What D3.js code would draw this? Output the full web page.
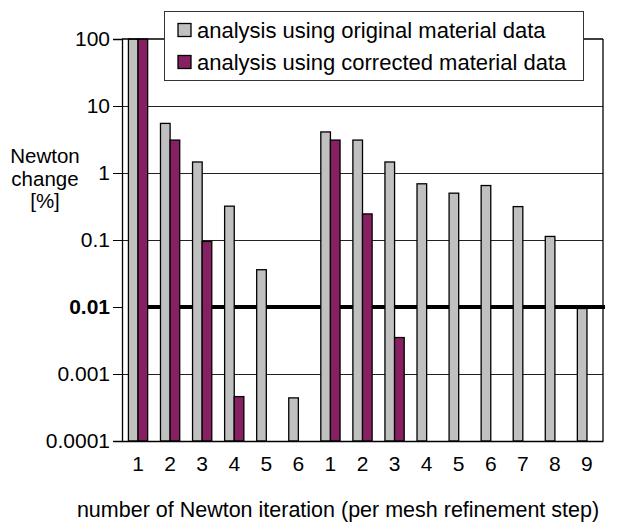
<!DOCTYPE html>
<html>
<head>
<meta charset="utf-8">
<script src="https://cdn.jsdelivr.net/npm/d3@7"></script>
<style>
  html, body { margin: 0; padding: 0; background: #fff; }
  svg { display: block; font-family: "Liberation Sans", Arial, sans-serif; }
</style>
</head>
<body>
<svg id="chart" width="622" height="525"></svg>
<script>
// ---- data ----
const iterationLabels = ["1","2","3","4","5","6","1","2","3","4","5","6","7","8","9"];
const originalData  = [100, 5.5, 1.46, 0.32, 0.036, 0.00044, 4.1, 3.1, 1.46, 0.69, 0.50, 0.65, 0.315, 0.113, 0.0095];
const correctedData = [100, 3.1, 0.095, 0.00046, null, null, 3.1, 0.245, 0.0035, null, null, null, null, null, null];
const seriesNames = ["analysis using original material data", "analysis using corrected material data"];
const seriesColors = ["#c0c0c0", "#862062"];
const yTickValues = [100, 10, 1, 0.1, 0.01, 0.001, 0.0001];
const yTickLabels = ["100", "10", "1", "0.1", "0.01", "0.001", "0.0001"];
const thresholdValue = 0.01;
const yTitleLines = ["Newton", "change", "[%]"];
const xTitle = "number of Newton iteration (per mesh refinement step)";

(function () {
// ---- layout ----
const svg = d3.select("#chart");
const pL = 122, pR = 603, pT = 39, pB = 441;

const cats = iterationLabels.map((d, i) => i);
const x = d3.scaleBand().domain(cats).range([pL, pR]).paddingInner(0).paddingOuter(0);
const xi = d3.scaleBand().domain([0, 1]).range([x.bandwidth() * 0.2, x.bandwidth() * 0.8]);
const y = d3.scaleLog().domain([0.0001, 100]).range([pB, pT]);

// plot background
svg.append("rect").attr("x", pL).attr("y", pT).attr("width", pR - pL).attr("height", pB - pT).attr("fill", "#fff");

// gridlines
svg.append("g").selectAll("line")
  .data(yTickValues.filter(v => v !== 0.0001 && v !== 100 && v !== thresholdValue))
  .join("line")
  .attr("x1", pL).attr("x2", pR)
  .attr("y1", d => Math.round(y(d)) + 0.5).attr("y2", d => Math.round(y(d)) + 0.5)
  .attr("stroke", "#222").attr("stroke-width", 1);

// threshold line
svg.append("line")
  .attr("x1", x(0) + xi(0)).attr("x2", pR + 2)
  .attr("y1", y(thresholdValue)).attr("y2", y(thresholdValue))
  .attr("stroke", "#000").attr("stroke-width", 4);

// bars
const series = [originalData, correctedData];
series.forEach((vals, s) => {
  svg.append("g").selectAll("rect")
    .data(vals.map((v, i) => ({ v, i })).filter(d => d.v != null))
    .join("rect")
    .attr("x", d => x(d.i) + xi(s))
    .attr("width", xi.bandwidth())
    .attr("y", d => y(d.v))
    .attr("height", d => y(0.0001) - y(d.v))
    .attr("fill", seriesColors[s])
    .attr("stroke", "#000").attr("stroke-width", 1.3);
});

// frame: top and right
svg.append("line").attr("x1", pL).attr("x2", pR).attr("y1", pT).attr("y2", pT).attr("stroke", "#000").attr("stroke-width", 1.3);
svg.append("line").attr("x1", pR).attr("x2", pR).attr("y1", pT).attr("y2", pB).attr("stroke", "#000").attr("stroke-width", 1.3);

// y axis
const yAxis = d3.axisLeft(y).tickValues(yTickValues).tickSize(9).tickPadding(3)
  .tickFormat((d, i) => yTickLabels[i]);
const gy = svg.append("g").attr("transform", `translate(${pL},0)`).call(yAxis);
gy.select(".domain").attr("stroke", "#000").attr("stroke-width", 1.3);
gy.selectAll(".tick line").attr("stroke", "#000");
gy.selectAll(".tick text")
  .attr("font-size", 21).attr("fill", "#000")
  .attr("font-family", "'Liberation Sans', Arial, sans-serif")
  .attr("font-weight", d => d === thresholdValue ? "bold" : "normal");

// x axis
const xAxis = d3.axisBottom(x).tickSize(0).tickPadding(15).tickFormat(i => iterationLabels[i]);
const gx = svg.append("g").attr("transform", `translate(0,${pB})`).call(xAxis);
gx.select(".domain").attr("stroke", "#000").attr("stroke-width", 1.3);
gx.selectAll(".tick text").attr("font-size", 21).attr("fill", "#000")
  .attr("font-family", "'Liberation Sans', Arial, sans-serif");

// y title (three separate lines)
svg.append("g").selectAll("text").data(yTitleLines).join("text")
  .attr("x", 45).attr("y", (d, i) => 163 + i * 22.5)
  .attr("text-anchor", "middle").attr("font-size", 20.5).attr("fill", "#000")
  .text(d => d);

// x title
svg.append("text").attr("x", 338).attr("y", 517)
  .attr("text-anchor", "middle").attr("font-size", 21.5).attr("fill", "#000").text(xTitle);

// legend
const lg = svg.append("g");
lg.append("rect").attr("x", 164.5).attr("y", 11.5).attr("width", 419).attr("height", 69)
  .attr("fill", "#fff").attr("stroke", "#333").attr("stroke-width", 1);
seriesNames.forEach((name, i) => {
  const cy = 30 + i * 32;
  lg.append("rect").attr("x", 178).attr("y", cy - 6.5).attr("width", 13).attr("height", 13)
    .attr("fill", seriesColors[i]).attr("stroke", "#000").attr("stroke-width", 1.3);
  lg.append("text").attr("x", 197).attr("y", cy).attr("dy", "0.35em")
    .attr("font-size", 22).attr("fill", "#000").text(name);
});
})();
</script>
</body>
</html>
